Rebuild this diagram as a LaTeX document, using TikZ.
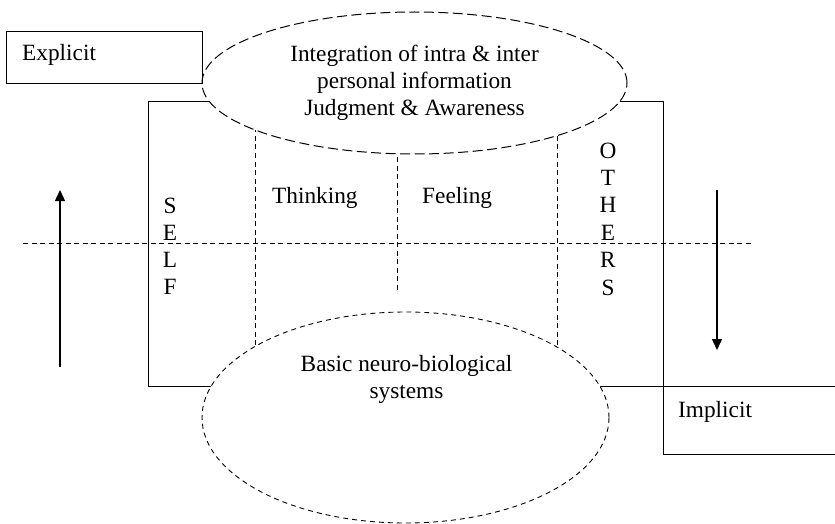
\documentclass[tikz,border=0pt]{standalone}
\usepackage{fontspec}
\setmainfont{Liberation Serif}
\usetikzlibrary{shapes.geometric,arrows.meta}
\begin{document}
\begin{tikzpicture}[x=1pt,y=-1pt,
  solidline/.style={line width=1pt},
  thindash/.style={line width=0.9pt,dash pattern=on 5pt off 3.5pt},
  bigell/.style={ellipse,draw,fill=white,inner sep=0pt,line width=1pt},
  lbl/.style={inner sep=0pt,font=\fontsize{23.3}{27}\selectfont},
  arr/.style={line width=1.3pt,-{Triangle[width=10pt,length=11pt]}}]
\useasboundingbox (0,0) rectangle (835,524);
% main frame (partly hidden by the ellipses)
\draw[solidline] (148,102) rectangle (663,386);
% dashed separators
\draw[thindash] (23,243) -- (753,243);
\draw[thindash] (255,102) -- (255,386);
\draw[thindash] (397,140) -- (397,293);
\draw[thindash] (557,102) -- (557,386);
% ellipses
\node[bigell,dash pattern=on 10pt off 4.5pt,minimum width=425pt,minimum height=142pt,
  align=center,font=\fontsize{23.3}{27}\selectfont] (top) at (414.5,83)
  {Integration of intra \& inter\\personal information\\Judgment \& Awareness};
\node[bigell,line width=0.9pt,dash pattern=on 5pt off 4pt,minimum width=407pt,minimum height=211pt] (bottom) at (405.5,417.5) {};
\node[lbl,align=center] (basic) at (406.5,379) {Basic neuro-biological\\systems};
% explicit / implicit boxes
\node[draw,solidline,anchor=north west,minimum width=196pt,minimum height=52pt,inner sep=0pt] (explicitbox) at (6,31) {};
\node[lbl,anchor=base west] (explicit) at (22,61) {Explicit};
\draw[solidline] (840,386) -- (663,386) -- (663,454) -- (840,454);
\node[lbl,anchor=base west] (implicit) at (678,417) {Implicit};
% column labels
\node[lbl,anchor=base west] (thinking) at (272,203) {Thinking};
\node[lbl,anchor=base west] (feeling) at (422,203) {Feeling};
\foreach \ch [count=\i] in {S,E,L,F}
  \node[lbl,anchor=base] (self\i) at (170,{213+27.3*(\i-1)}) {\ch};
\foreach \ch [count=\i] in {O,T,H,E,R,S}
  \node[lbl,anchor=base] (others\i) at (608,{158+27.4*(\i-1)}) {\ch};
% arrows
\coordinate (upfrom) at (60,367);
\coordinate (upto) at (60,190);
\coordinate (downfrom) at (717,190);
\coordinate (downto) at (717,350);
\draw[arr] (upfrom) -- (upto);
\draw[arr] (downfrom) -- (downto);
\end{tikzpicture}
\end{document}
